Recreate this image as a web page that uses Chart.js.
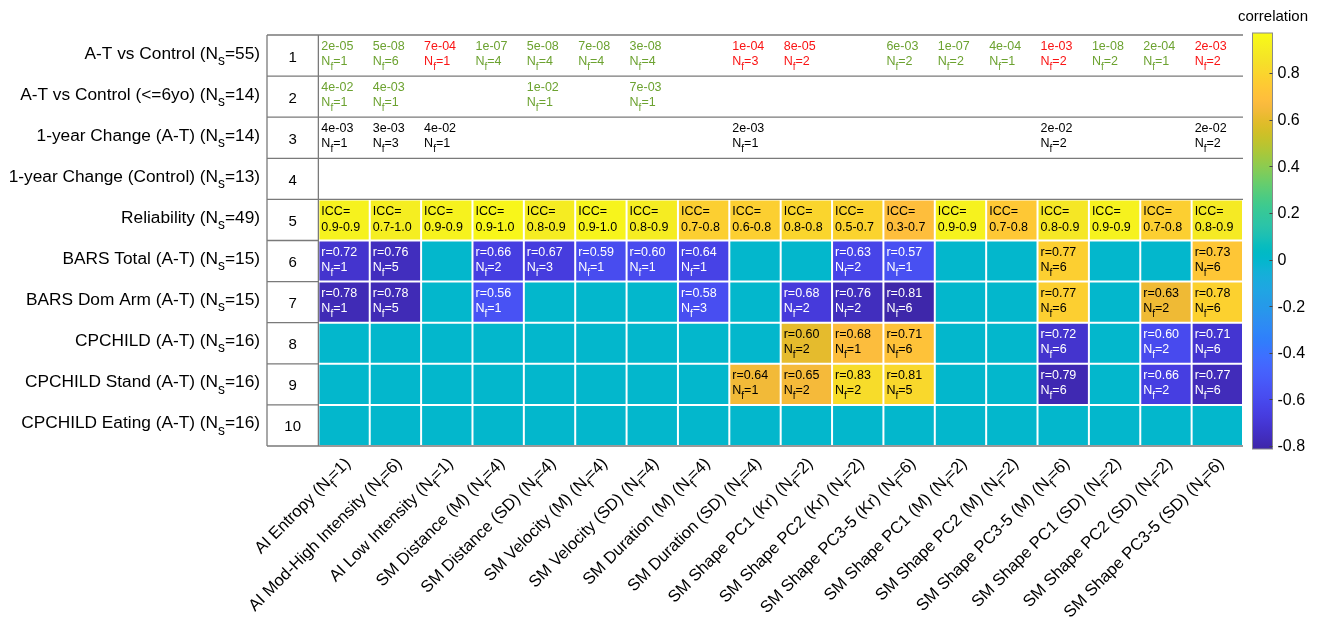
<!DOCTYPE html>
<html>
<head>
<meta charset="utf-8">
<title>Feature summary</title>
<script src="https://cdn.jsdelivr.net/npm/chart.js@4.4.1/dist/chart.umd.min.js"></script>
<style>
  html, body { margin: 0; padding: 0; background: #fff; }
  #wrap { width: 1322px; height: 624px; position: relative; }
</style>
</head>
<body>
<div id="wrap"><canvas id="chart"></canvas></div>
<script>
// ---- rows (analyses) ----
const rowNames = ['A-T vs Control', 'A-T vs Control (<=6yo)', '1-year Change (A-T)', '1-year Change (Control)',
  'Reliability', 'BARS Total (A-T)', 'BARS Dom Arm (A-T)', 'CPCHILD (A-T)', 'CPCHILD Stand (A-T)', 'CPCHILD Eating (A-T)'];
const rowNs = [55, 14, 14, 13, 49, 15, 15, 16, 16, 16];

// ---- columns (feature groups) ----
const featureNames = ['AI Entropy', 'AI Mod-High Intensity', 'AI Low Intensity', 'SM Distance (M)', 'SM Distance (SD)',
  'SM Velocity (M)', 'SM Velocity (SD)', 'SM Duration (M)', 'SM Duration (SD)', 'SM Shape PC1 (Kr)', 'SM Shape PC2 (Kr)',
  'SM Shape PC3-5 (Kr)', 'SM Shape PC1 (M)', 'SM Shape PC2 (M)', 'SM Shape PC3-5 (M)', 'SM Shape PC1 (SD)',
  'SM Shape PC2 (SD)', 'SM Shape PC3-5 (SD)'];
const featureNf = [1, 6, 1, 4, 4, 4, 4, 4, 4, 2, 2, 6, 2, 2, 6, 2, 2, 6];

// ---- group comparisons: p-values, feature counts, direction (+1 green, -1 red) ----
const pAllAges   = ['2e-05', '5e-08', '7e-04', '1e-07', '5e-08', '7e-08', '3e-08', null, '1e-04', '8e-05', null, '6e-03', '1e-07', '4e-04', '1e-03', '1e-08', '2e-04', '2e-03'];
const nfAllAges  = [1, 6, 1, 4, 4, 4, 4, null, 3, 2, null, 2, 2, 1, 2, 2, 1, 2];
const dirAllAges = [1, 1, -1, 1, 1, 1, 1, 0, -1, -1, 0, 1, 1, 1, -1, 1, 1, -1];

const pYoung   = ['4e-02', '4e-03', null, null, '1e-02', null, '7e-03', null, null, null, null, null, null, null, null, null, null, null];
const nfYoung  = [1, 1, null, null, 1, null, 1, null, null, null, null, null, null, null, null, null, null, null];
const dirYoung = [1, 1, 0, 0, 1, 0, 1, 0, 0, 0, 0, 0, 0, 0, 0, 0, 0, 0];

const pChangeAT  = ['4e-03', '3e-03', '4e-02', null, null, null, null, null, '2e-03', null, null, null, null, null, '2e-02', null, null, '2e-02'];
const nfChangeAT = [1, 3, 1, null, null, null, null, null, 1, null, null, null, null, null, 2, null, null, 2];

const pChangeCtrl  = new Array(18).fill(null);
const nfChangeCtrl = new Array(18).fill(null);

// ---- test-retest reliability ----
const iccLow   = [0.9, 0.7, 0.9, 0.9, 0.8, 0.9, 0.8, 0.7, 0.6, 0.8, 0.5, 0.3, 0.9, 0.7, 0.8, 0.9, 0.7, 0.8];
const iccHigh  = [0.9, 1.0, 0.9, 1.0, 0.9, 1.0, 0.9, 0.8, 0.8, 0.8, 0.7, 0.7, 0.9, 0.8, 0.9, 0.9, 0.8, 0.9];
const iccPoint = [0.93, 0.91, 0.93, 0.95, 0.90, 0.94, 0.90, 0.77, 0.77, 0.80, 0.79, 0.69, 0.93, 0.74, 0.88, 0.93, 0.77, 0.89];

// ---- clinical correlations (signed r) and feature counts ----
const rBarsTotal  = [-0.72, -0.76, null, -0.66, -0.67, -0.59, -0.60, -0.64, null, null, -0.63, -0.57, null, null, 0.77, null, null, 0.73];
const nfBarsTotal = [1, 5, null, 2, 3, 1, 1, 1, null, null, 2, 1, null, null, 6, null, null, 6];
const rBarsArm    = [-0.78, -0.78, null, -0.56, null, null, null, -0.58, null, -0.68, -0.76, -0.81, null, null, 0.77, null, 0.63, 0.78];
const nfBarsArm   = [1, 5, null, 1, null, null, null, 3, null, 2, 2, 6, null, null, 6, null, 2, 6];
const rCp         = [null, null, null, null, null, null, null, null, null, 0.60, 0.68, 0.71, null, null, -0.72, null, -0.60, -0.71];
const nfCp        = [null, null, null, null, null, null, null, null, null, 2, 1, 6, null, null, 6, null, 2, 6];
const rCpStand    = [null, null, null, null, null, null, null, null, 0.64, 0.65, 0.83, 0.81, null, null, -0.79, null, -0.66, -0.77];
const nfCpStand   = [null, null, null, null, null, null, null, null, 1, 2, 2, 5, null, null, 6, null, 2, 6];
const rCpEat      = new Array(18).fill(null);
const nfCpEat     = new Array(18).fill(null);

// ---- colour bar ----
const colorbarTicks = [0.8, 0.6, 0.4, 0.2, 0, -0.2, -0.4, -0.6, -0.8];
const colorMin = -0.813, colorMax = 0.972;

// parula colormap (64 entries)
const parulaMap = [
  [0.2422,0.1504,0.6603],[0.2504,0.1650,0.7076],[0.2578,0.1818,0.7511],[0.2647,0.1978,0.7952],
  [0.2706,0.2147,0.8364],[0.2751,0.2342,0.8710],[0.2783,0.2559,0.8991],[0.2803,0.2782,0.9221],
  [0.2813,0.3006,0.9414],[0.2810,0.3228,0.9579],[0.2795,0.3447,0.9717],[0.2760,0.3667,0.9829],
  [0.2699,0.3892,0.9906],[0.2602,0.4123,0.9952],[0.2440,0.4358,0.9988],[0.2206,0.4603,0.9973],
  [0.1963,0.4847,0.9892],[0.1834,0.5074,0.9798],[0.1786,0.5289,0.9682],[0.1764,0.5499,0.9520],
  [0.1687,0.5703,0.9359],[0.1540,0.5902,0.9218],[0.1460,0.6091,0.9079],[0.1380,0.6276,0.8973],
  [0.1248,0.6459,0.8883],[0.1113,0.6635,0.8763],[0.0952,0.6798,0.8598],[0.0689,0.6948,0.8394],
  [0.0297,0.7082,0.8163],[0.0036,0.7203,0.7917],[0.0067,0.7312,0.7660],[0.0433,0.7411,0.7394],
  [0.0964,0.7500,0.7120],[0.1408,0.7584,0.6842],[0.1717,0.7670,0.6554],[0.1938,0.7758,0.6251],
  [0.2161,0.7843,0.5923],[0.2470,0.7918,0.5567],[0.2906,0.7973,0.5188],[0.3406,0.8008,0.4789],
  [0.3909,0.8029,0.4354],[0.4456,0.8024,0.3909],[0.5044,0.7993,0.3480],[0.5616,0.7942,0.3045],
  [0.6174,0.7876,0.2612],[0.6720,0.7793,0.2227],[0.7242,0.7698,0.1910],[0.7738,0.7598,0.1646],
  [0.8203,0.7498,0.1535],[0.8634,0.7406,0.1596],[0.9035,0.7330,0.1774],[0.9393,0.7288,0.2100],
  [0.9728,0.7298,0.2394],[0.9956,0.7434,0.2371],[0.9970,0.7659,0.2199],[0.9952,0.7893,0.2028],
  [0.9892,0.8136,0.1885],[0.9786,0.8386,0.1766],[0.9676,0.8639,0.1643],[0.9610,0.8890,0.1537],
  [0.9597,0.9135,0.1423],[0.9628,0.9373,0.1265],[0.9691,0.9606,0.1064],[0.9769,0.9839,0.0805]
];

function parulaAt(t) {
  t = Math.max(0, Math.min(1, t));
  const f = t * (parulaMap.length - 1);
  const i = Math.min(Math.floor(f), parulaMap.length - 2);
  const a = f - i, c0 = parulaMap[i], c1 = parulaMap[i + 1];
  const ch = [0, 1, 2].map(k => Math.round(255 * (c0[k] + (c1[k] - c0[k]) * a)));
  return `rgb(${ch[0]},${ch[1]},${ch[2]})`;
}
const colorFor = v => parulaAt(((v == null ? 0 : v) - colorMin) / (colorMax - colorMin));

// ---- table layout helpers ----
const FONT = '"Liberation Sans", Arial, Helvetica, sans-serif';
const GREEN = 'rgb(108,162,48)';
const RED = 'rgb(250,20,20)';
const LINE = '#7a7a7a';
const CELL_FONT = 12.5;
const ROW_LABEL_FONT = 17.3;
const COL_LABEL_FONT = 16.6;

// text rows (1-4): each entry gives the p-values, counts and colour per column
const textRows = [
  { row: 1, p: pAllAges, nf: nfAllAges, color: c => dirAllAges[c] < 0 ? RED : GREEN },
  { row: 2, p: pYoung, nf: nfYoung, color: c => dirYoung[c] < 0 ? RED : GREEN },
  { row: 3, p: pChangeAT, nf: nfChangeAT, color: () => '#000' },
  { row: 4, p: pChangeCtrl, nf: nfChangeCtrl, color: () => '#000' }
];

// coloured rows (5-10)
const heatRows = [
  { row: 5, values: iccPoint, nf: null },
  { row: 6, values: rBarsTotal, nf: nfBarsTotal },
  { row: 7, values: rBarsArm, nf: nfBarsArm },
  { row: 8, values: rCp, nf: nfCp },
  { row: 9, values: rCpStand, nf: nfCpStand },
  { row: 10, values: rCpEat, nf: nfCpEat }
];

const xLabels = ['#'].concat(featureNames);

const datasets = heatRows.map(hr => ({
  label: rowNames[hr.row - 1],
  data: [null].concat(hr.values.map(() => [hr.row - 0.5, hr.row + 0.5])),
  backgroundColor: ctx => colorFor(hr.values[ctx.dataIndex - 1]),
  borderColor: '#ffffff',
  borderWidth: 1,
  borderSkipped: false,
  inflateAmount: 0,
  barPercentage: 1,
  categoryPercentage: 1,
  grouped: false
}));

// "_x" marks a one-character subscript
function richParts(str) {
  const parts = [];
  let buf = '';
  for (let i = 0; i < str.length; i++) {
    if (str[i] === '_' && i + 1 < str.length) {
      if (buf) parts.push([buf, false]);
      buf = '';
      parts.push([str[i + 1], true]);
      i++;
    } else buf += str[i];
  }
  if (buf) parts.push([buf, false]);
  return parts;
}

function drawRich(ctx, str, x, y, size, align, color) {
  const parts = richParts(str);
  const main = `${size}px ${FONT}`, sub = `${(size * 0.8).toFixed(1)}px ${FONT}`;
  let w = 0;
  for (const [t, s] of parts) { ctx.font = s ? sub : main; w += ctx.measureText(t).width; }
  let cx = align === 'right' ? x - w : align === 'center' ? x - w / 2 : x;
  ctx.fillStyle = color;
  ctx.textAlign = 'left';
  ctx.textBaseline = 'alphabetic';
  for (const [t, s] of parts) {
    ctx.font = s ? sub : main;
    ctx.fillText(t, cx, s ? y + size * 0.36 : y);
    cx += ctx.measureText(t).width;
  }
}

const tableDecor = {
  id: 'tableDecor',
  afterDatasetsDraw(chart) {
    const { ctx, chartArea: ca, scales: { x, y } } = chart;
    const colW = x.getPixelForValue(1) - x.getPixelForValue(0);
    const colLeft = c => x.getPixelForValue(c) - colW / 2;
    const rowTop = r => y.getPixelForValue(r - 0.5);
    const rowMid = r => y.getPixelForValue(r);
    const numL = colLeft(0), numR = colLeft(1);

    ctx.save();
    // frame lines
    ctx.strokeStyle = LINE;
    ctx.lineWidth = 1.3;
    ctx.beginPath();
    [0.5, 1.5, 2.5, 3.5, 4.5, 10.5].forEach(b => {
      const py = y.getPixelForValue(b);
      ctx.moveTo(numL, py); ctx.lineTo(ca.right, py);
    });
    [5.5, 6.5, 7.5, 8.5, 9.5].forEach(b => {
      const py = y.getPixelForValue(b);
      ctx.moveTo(numL, py); ctx.lineTo(numR, py);
    });
    [numL, numR].forEach(px => {
      ctx.moveTo(px, y.getPixelForValue(0.5)); ctx.lineTo(px, y.getPixelForValue(10.5));
    });
    ctx.stroke();

    // row numbers and row names
    for (let r = 1; r <= 10; r++) {
      ctx.font = `15px ${FONT}`;
      ctx.fillStyle = '#000';
      ctx.textAlign = 'center';
      ctx.textBaseline = 'alphabetic';
      ctx.fillText(String(r), x.getPixelForValue(0), rowMid(r) + 6);
      drawRich(ctx, `${rowNames[r - 1]} (N_s=${rowNs[r - 1]})`, numL - 7, rowMid(r) + 3, ROW_LABEL_FONT, 'right', '#000');
    }

    // p-value rows
    textRows.forEach(tr => {
      tr.p.forEach((p, i) => {
        if (p == null) return;
        const lx = colLeft(i + 1) + 3, top = rowTop(tr.row);
        const col = tr.color(i);
        drawRich(ctx, p, lx, top + 14.5, CELL_FONT, 'left', col);
        drawRich(ctx, `N_f=${tr.nf[i]}`, lx, top + 30, CELL_FONT, 'left', col);
      });
    });

    // reliability row
    iccLow.forEach((lo, i) => {
      const lx = colLeft(i + 1) + 3, top = rowTop(5);
      drawRich(ctx, 'ICC=', lx, top + 16, CELL_FONT, 'left', '#000');
      drawRich(ctx, `${lo.toFixed(1)}-${iccHigh[i].toFixed(1)}`, lx, top + 31.5, CELL_FONT, 'left', '#000');
    });

    // correlation rows
    heatRows.slice(1).forEach(hr => {
      hr.values.forEach((v, i) => {
        if (v == null) return;
        const lx = colLeft(i + 1) + 3, top = rowTop(hr.row);
        const col = v < 0 ? '#fff' : '#000';
        drawRich(ctx, `r=${Math.abs(v).toFixed(2)}`, lx, top + 15.5, CELL_FONT, 'left', col);
        drawRich(ctx, `N_f=${hr.nf[i]}`, lx, top + 30.5, CELL_FONT, 'left', col);
      });
    });

    // slanted feature labels
    featureNames.forEach((name, i) => {
      ctx.save();
      ctx.translate(x.getPixelForValue(i + 1) + 3, ca.bottom + 14);
      ctx.rotate(-Math.PI / 4);
      drawRich(ctx, `${name} (N_f=${featureNf[i]})`, 0, 6, COL_LABEL_FONT, 'right', '#000');
      ctx.restore();
    });

    // colour bar
    const cb = { left: 1252.5, right: 1272.5, top: 33, bottom: 449 };
    const vToY = v => cb.top + (colorMax - v) / (colorMax - colorMin) * (cb.bottom - cb.top);
    const grad = ctx.createLinearGradient(0, cb.bottom, 0, cb.top);
    parulaMap.forEach((c, k) => {
      grad.addColorStop(k / (parulaMap.length - 1),
        `rgb(${Math.round(c[0] * 255)},${Math.round(c[1] * 255)},${Math.round(c[2] * 255)})`);
    });
    ctx.fillStyle = grad;
    ctx.fillRect(cb.left, cb.top, cb.right - cb.left, cb.bottom - cb.top);
    ctx.strokeStyle = '#8a8a8a';
    ctx.lineWidth = 1;
    ctx.strokeRect(cb.left, cb.top, cb.right - cb.left, cb.bottom - cb.top);
    ctx.strokeStyle = '#444';
    ctx.beginPath();
    colorbarTicks.forEach(v => {
      const py = Math.round(vToY(v)) + 0.5;
      ctx.moveTo(cb.right - 3, py); ctx.lineTo(cb.right, py);
    });
    ctx.stroke();
    ctx.fillStyle = '#000';
    ctx.font = `16px ${FONT}`;
    ctx.textAlign = 'left';
    ctx.textBaseline = 'middle';
    colorbarTicks.forEach(v => {
      ctx.fillText(v === 0 ? '0' : v.toFixed(1), cb.right + 5, vToY(v) + 1);
    });
    ctx.font = `15px ${FONT}`;
    ctx.textAlign = 'center';
    ctx.textBaseline = 'alphabetic';
    ctx.fillText('correlation', 1273, 21);
    ctx.restore();
  }
};

Chart.defaults.font.family = FONT;
new Chart(document.getElementById('chart'), {
  type: 'bar',
  data: { labels: xLabels, datasets },
  options: {
    responsive: true,
    maintainAspectRatio: false,
    devicePixelRatio: 1,
    animation: false,
    layout: { padding: { left: 267, right: 79, top: 35, bottom: 178 } },
    plugins: { legend: { display: false }, tooltip: { enabled: false } },
    scales: {
      x: { type: 'category', offset: true, display: false },
      y: { type: 'linear', min: 0.5, max: 10.5, reverse: true, display: false }
    }
  },
  plugins: [tableDecor]
});
</script>
</body>
</html>
